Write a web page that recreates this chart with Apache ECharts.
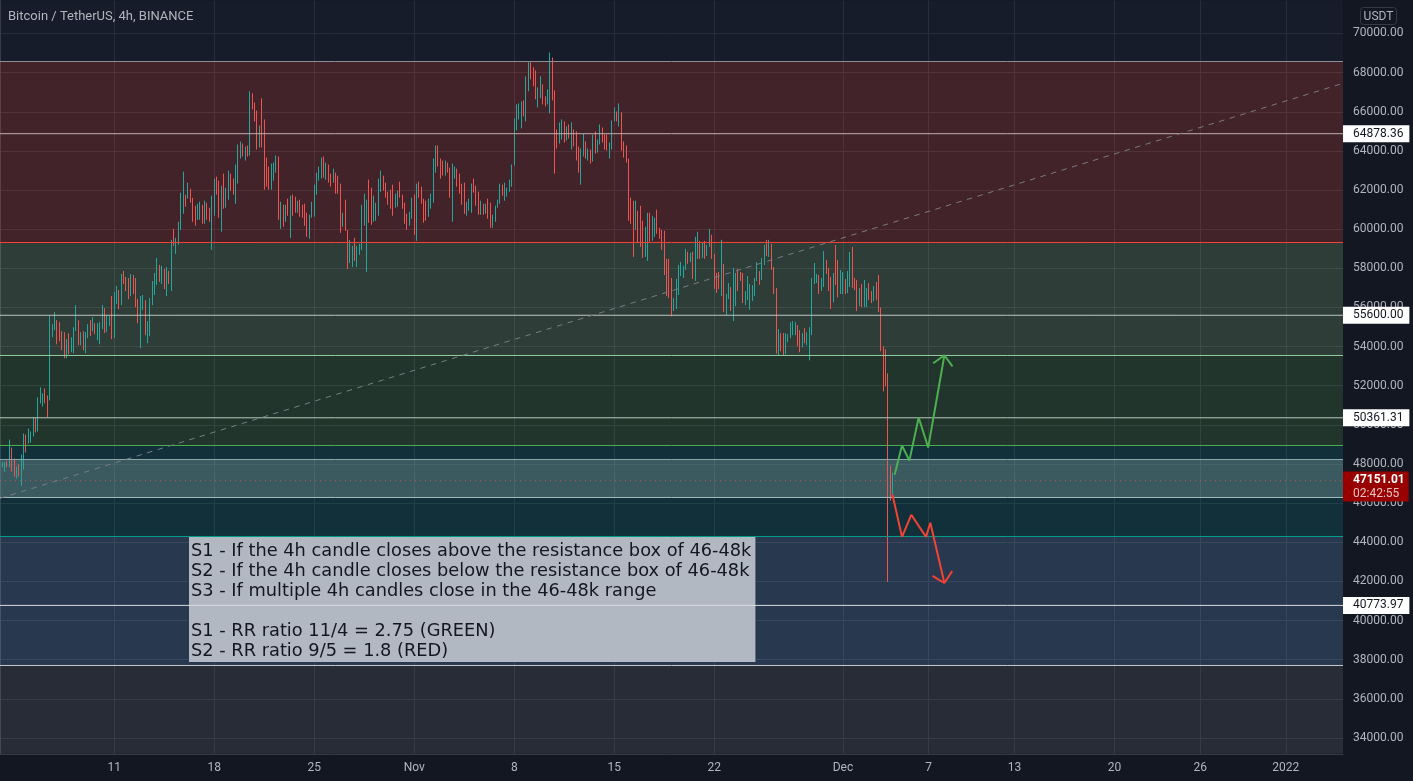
<!DOCTYPE html>
<html>
<head>
<meta charset="utf-8">
<title>Bitcoin / TetherUS, 4h, BINANCE</title>
<script src="https://cdn.jsdelivr.net/npm/echarts@6/dist/echarts.min.js"></script>
<style>
	html, body { margin: 0; padding: 0; background: #131722; overflow: hidden; }
	#chartmain { width: 1413px; height: 781px; }
</style>
</head>
<body>
<div id="chartmain"></div>
<script>
// 4h candles, first slot is 3 Oct 2021 00:00. At this zoom a candle is a 1px
// stick, body and wick can't be told apart, so only high, low and direction are read.
var highs = [
	48200,48122,48087,48173,49249,48839,48275,47865,47968,48480,
	49557,49506,49813,49660,50377,50377,51403,51915,51608,51864,
	51505,55590,55145,55761,55351,55248,54787,54735,54376,54684,
	54479,54992,56120,55351,54735,54787,54735,55145,55351,55504,
	55197,55197,55248,56120,55966,55607,55556,56581,56786,57094,
	56889,57709,57863,57555,57504,57709,57658,57504,56427,56581,
	56632,56376,55299,56478,57350,57763,58532,58173,58121,57968,
	58070,57865,59455,60019,59557,60377,61864,62941,61762,62377,
	62069,61608,61198,61300,61403,61249,61454,61352,61095,61711,
	62582,62685,62480,62223,62838,62121,62992,62838,62582,63300,
	64325,64479,64377,64223,64274,67043,66940,66479,66069,65299,
	66684,65607,63659,63197,63351,63402,63761,63710,61403,61249,
	61249,61557,61711,61762,61659,61454,61505,61249,61300,60839,
	60736,61403,62275,62890,63197,63659,63710,63402,63300,62838,
	63095,62890,62736,62326,60839,61505,59967,59455,59147,59557,
	59147,59250,61249,61813,61505,62531,62121,61711,61352,62582,
	62992,62736,62377,61916,62018,62275,61813,61967,62428,61762,
	61352,60788,60890,61608,61762,62326,62428,62172,61557,61454,
	61557,61813,63608,64274,64274,63608,63506,63506,63403,63147,
	63352,63198,63095,62839,62326,62378,61403,61557,62326,62583,
	62224,61916,61455,61301,61301,61557,61352,60737,61198,61506,
	62326,62275,62378,62121,62532,63300,65659,66377,66428,66531,
	66582,67812,68530,68530,68274,68120,67248,67812,67402,66787,
	67146,69026,68769,67094,65095,65454,65608,65505,65249,65351,
	65454,65095,64992,64223,64121,64890,64480,64121,64070,64839,
	64992,64582,65351,65197,64839,64839,64428,65556,66223,66018,
	66428,65967,64480,64275,63608,61609,61455,61455,60942,61198,
	60429,60122,60840,60840,60686,60583,60993,60070,59968,59917,
	58481,58481,57507,56482,57456,58174,58327,58122,58994,58840,
	58789,58840,59609,59866,59404,59301,59404,59199,60019,59712,
	58737,57763,57815,59455,58225,56687,57251,57046,58020,57763,
	57968,57815,57761,56838,57607,57197,57145,57504,58325,57863,
	58530,59196,59453,59453,59248,58068,56992,54890,54684,54684,
	54684,54633,55248,55300,55248,55095,54838,54684,54941,54736,
	54992,57504,58273,57709,57658,57504,58889,58427,58017,57556,
	57761,59196,58427,57915,57812,57453,57863,58837,59094,57504,
	57402,56992,57197,57402,56992,57248,56838,57094,57299,57658,
	56000,54018,53864,52634,47917,47558
];
var lows = [
	47900,47831,47609,47831,47831,47609,47352,47250,47352,46891,
	47711,48583,49044,49096,49403,49608,49660,51095,50941,51095,
	50377,51249,54479,54838,54120,54274,53812,53402,53402,53607,
	53710,53659,54787,54069,54069,53812,53659,54428,54530,54787,
	54633,54325,54120,54889,54684,54735,55043,54376,54428,56171,
	55914,56120,57196,56837,56427,56581,56684,56017,55197,53915,
	55863,54581,54171,54530,56120,56632,57148,57301,57199,56943,
	56584,57199,56840,59147,58737,59198,59967,60788,61147,61557,
	61352,60377,60173,60480,60480,60275,60275,60480,60377,58942,
	60685,61762,60583,59865,61044,61095,61505,61967,61762,61300,
	62326,63608,63710,63505,63710,63761,66120,65505,64069,64171,
	64171,62018,62172,62018,62018,62480,62890,60480,60019,60121,
	60377,60685,59557,60685,60839,60839,60634,60583,60173,59609,
	59506,60583,60634,61762,62480,62582,62633,62531,62377,62172,
	62377,61813,61813,59814,60121,59916,57968,58276,58070,58378,
	58070,58686,58942,60173,57814,60326,60224,60377,60429,60685,
	61916,61967,61608,61249,61044,60685,61095,61147,61608,61044,
	60275,59967,60173,60531,59711,59403,61608,61300,60326,60429,
	60634,61044,61352,62890,63197,62582,62737,62737,62890,61609,
	60378,62583,62173,61814,61250,60788,60686,60942,60840,61865,
	61198,60737,60737,60737,60788,60532,60070,60070,60378,61096,
	61301,61711,61455,61660,61916,62173,63249,65044,65608,65146,
	65761,65505,67043,67658,67300,66633,66223,66684,66377,66274,
	66377,65915,66582,62839,64121,64377,64582,64428,64531,64634,
	64070,64223,63506,62890,62275,63711,63608,63506,63352,63454,
	63864,63916,64326,64428,64070,64018,63608,64070,65505,65505,
	65249,64018,63659,63403,60429,60276,58584,59968,59301,59096,
	58532,58584,58379,59353,59404,59609,59763,59507,58943,57661,
	56584,56482,55542,55815,55917,56635,57610,57507,57917,58225,
	58327,57456,57353,58481,58481,58532,58481,58635,59096,58481,
	56943,56738,56943,56584,55764,55610,56430,55815,55302,56071,
	56840,57353,56223,56120,56376,55881,56325,56581,57351,57145,
	57402,58171,58632,58581,57915,56684,53642,53557,53762,53557,
	53608,54223,54428,54582,54582,54018,53710,53967,54172,54069,
	53300,54582,57197,57248,56684,56838,57043,57709,56838,55915,
	56274,57145,56513,56684,56684,56684,56735,57043,56992,56889,
	55812,56069,56018,56018,56018,56376,56223,56325,56376,55761,
	53762,51711,51967,41970,46122,46430
];
// u = up candle, d = down candle
var directions = "uuududdudu" + "uduuuduuud" + "duuuddddud" + "uuududuudu" + "duuuduuduu" +
	"dudddudddu" + "uduuuuudud" + "ududuuuudu" + "ddduududdu" + "udduduuddu" +
	"uudududddu" + "dddduuudud" + "ududdudddd" + "uuuuuududd" + "udddudduud" +
	"uuuuudduuu" + "uddddduudd" + "dduududddd" + "uuuudddudd" + "uudddduuud" +
	"ddududduuu" + "uduuuuuuuu" + "duuddduudd" + "uuddduudud" + "uddduududu" +
	"duuddduuud" + "uddddddudd" + "duuduudddd" + "ddduuuuuud" + "uduududuud" +
	"ddduduuduu" + "ddduuuuuud" + "uududddudd" + "uuuuuddudu" + "uuuuduuddd" +
	"udduuduudd" + "duduuddudd" + "dddddu";

var slotCount = 565;
var priceTicks = [34000,36000,38000,40000,42000,44000,46000,48000,50000,52000,54000,56000,58000,60000,62000,64000,66000,68000,70000];
var dateTickSlots = [48,90,132,174,216,258,300,354,390,426,468,504,540];
var dateTickLabels = ['11','18','25','Nov','8','15','22','Dec','7','13','20','26','2022'];

// drawn price levels and the shaded bands between them
var levelPrices = [68568,64878.36,59319,55600,53545,50361.31,48946,48230,46289,44296,40773.97,37704];
var levelColors = ['#8d8d98','#c0aeaf','#f44336','#bcc6bf','#8fcf9f','#b8c8bc','#4caf50','#8fa9ab','#a3bcbe','#00a08c','#d8dce2','#c8cace'];
var taggedLevels = [64878.36,55600,50361.31,40773.97];
var bandTops = [71698,68568,59319,53545,48946,48230,44296,37704];
var bandBottoms = [68568,59319,53545,48946,44296,46289,37704,33193];
var bandColors = ['rgba(66,90,130,0.08)','rgba(255,83,69,0.2)','rgba(159,213,144,0.2)','rgba(94,173,89,0.2)',
	'rgba(14,148,149,0.2)','rgba(155,188,187,0.3)','rgba(124,188,255,0.2)','rgba(124,128,139,0.2)'];

var lastPrice = 47151.01;
var countdown = '02:42:55';

var trendSlots = [0,564];
var trendPrices = [46245,67453];
var greenPathSlots = [375.7,378.8,381.9,385.8,389.8,396.6];
var greenPathPrices = [47455,48942,48173,50378,48840,53557];
var greenHeadSlots = [391.9,396.6,400];
var greenHeadPrices = [53146,53557,52992];
var redPathSlots = [374.8,378.8,382.7,388.9,390.7,396.6];
var redPathPrices = [46430,44277,45405,44277,44995,41918];
var redHeadSlots = [391.6,396.6,399.9];
var redHeadPrices = [42277,41918,42534];

var noteLines = [
	'S1 - If the 4h candle closes above the resistance box of 46-48k',
	'S2 - If the 4h candle closes below the resistance box of 46-48k',
	'S3 - If multiple 4h candles close in the 46-48k range',
	'',
	'S1 - RR ratio 11/4 = 2.75 (GREEN)',
	'S2 - RR ratio 9/5 = 1.8 (RED)'
];

var categories = [];
var start = Date.UTC(2021, 9, 3);
for (var s = 0; s < slotCount; s++) {
	categories.push(new Date(start + s * 4 * 3600 * 1000).toISOString().slice(0, 16));
}

var candles = [];
for (var i = 0; i < highs.length; i++) {
	if (directions.charAt(i) == 'u') {
		candles.push([lows[i], highs[i], lows[i], highs[i]]);
	} else {
		candles.push([highs[i], lows[i], lows[i], highs[i]]);
	}
}

function pairs(xs, ys) {
	var out = [];
	for (var k = 0; k < xs.length; k++) {
		out.push([xs[k], ys[k]]);
	}
	return out;
}

function isDateTick(index) {
	return dateTickSlots.indexOf(index) >= 0;
}

function overlayLine(name, xs, ys, color, width, dash, z, opacity) {
	return {
		name: name,
		type: 'line',
		xAxisIndex: 1,
		data: pairs(xs, ys),
		symbol: 'none',
		silent: true,
		z: z,
		lineStyle: { color: color, width: width, type: dash, opacity: opacity }
	};
}

var bandAreas = [];
for (var b = 0; b < bandTops.length; b++) {
	bandAreas.push([
		{ yAxis: bandTops[b], itemStyle: { color: bandColors[b] } },
		{ yAxis: bandBottoms[b] }
	]);
}

// tags on the price axis; the levels themselves are plain line series further down
var levelTags = [];
for (var t = 0; t < taggedLevels.length; t++) {
	levelTags.push({
		yAxis: taggedLevels[t],
		lineStyle: { color: 'rgba(0,0,0,0)' },
		label: {
			show: true,
			position: 'end',
			distance: 0,
			formatter: taggedLevels[t].toFixed(2),
			color: '#131722',
			backgroundColor: '#ffffff',
			fontFamily: 'Roboto',
			fontSize: 12,
			lineHeight: 14,
			padding: [2, 6, 1, 10]
		}
	});
}
levelTags.push({
	yAxis: lastPrice,
	lineStyle: { color: 'rgba(0,0,0,0)' },
	label: {
		show: true,
		position: 'end',
		distance: 0,
		offset: [0, 6],
		formatter: '{p|' + lastPrice.toFixed(2) + '}\n{t|' + countdown + '}',
		backgroundColor: '#990000',
		padding: [1, 4, 1, 10],
		rich: {
			p: { color: '#ffffff', fontFamily: 'Roboto', fontSize: 12, fontWeight: 'bold', lineHeight: 14 },
			t: { color: '#e3c4c4', fontFamily: 'Roboto', fontSize: 12, lineHeight: 14 }
		}
	}
});

var seriesList = [{
	name: 'BTCUSDT',
	type: 'candlestick',
	data: candles,
	barWidth: 0,
	z: 2,
	silent: true,
	itemStyle: {
		color: '#26a69a',
		color0: '#ef5350',
		borderColor: '#26a69a',
		borderColor0: '#ef5350',
		borderWidth: 1
	}
}, {
	name: 'zones',
	type: 'line',
	data: [],
	z: 3,
	silent: true,
	markArea: { silent: true, data: bandAreas }
}, {
	name: 'tags',
	type: 'line',
	data: [],
	z: 6,
	silent: true,
	markLine: { silent: true, symbol: 'none', animation: false, data: levelTags }
}];
for (var l = 0; l < levelPrices.length; l++) {
	seriesList.push(overlayLine('level', [0, slotCount - 1], [levelPrices[l], levelPrices[l]], levelColors[l], 1, 'solid', 4, 1));
}
seriesList.push(overlayLine('last price', [0, slotCount - 1], [lastPrice, lastPrice], '#ef5350', 1, [1, 4], 4, 0.7));
seriesList.push(overlayLine('trend', trendSlots, trendPrices, '#787b86', 1, [5.5, 5.5], 4, 1));
seriesList.push(overlayLine('up path', greenPathSlots, greenPathPrices, '#4caf50', 2, 'solid', 5, 1));
seriesList.push(overlayLine('up head', greenHeadSlots, greenHeadPrices, '#4caf50', 2, 'solid', 5, 1));
seriesList.push(overlayLine('down path', redPathSlots, redPathPrices, '#f44336', 2, 'solid', 5, 1));
seriesList.push(overlayLine('down head', redHeadSlots, redHeadPrices, '#f44336', 2, 'solid', 5, 1));

var option = {
	animation: false,
	backgroundColor: '#131722',
	title: {
		text: 'Bitcoin / TetherUS, 4h, BINANCE',
		left: 3,
		top: 5,
		textStyle: { color: '#b2b5be', fontFamily: 'Roboto', fontSize: 13, fontWeight: 'normal' }
	},
	grid: { left: -1, right: 70, top: 0.25, bottom: 27.25 },
	xAxis: [{
		type: 'category',
		data: categories,
		boundaryGap: false,
		axisLine: { lineStyle: { color: '#363a45' } },
		axisTick: { show: false, interval: function(index) { return isDateTick(index); } },
		axisLabel: {
			color: '#b2b5be',
			fontFamily: 'Roboto',
			fontSize: 12,
			margin: 8,
			interval: function(index) { return isDateTick(index); },
			formatter: function(value, index) { return dateTickLabels[dateTickSlots.indexOf(index)]; }
		},
		splitLine: {
			show: true,
			interval: function(index) { return isDateTick(index); },
			lineStyle: { color: '#262a36' }
		}
	}, {
		type: 'value',
		min: 0,
		max: slotCount - 1,
		show: false
	}],
	yAxis: {
		type: 'value',
		position: 'right',
		min: 33193,
		max: 71698,
		axisLine: { show: true, lineStyle: { color: '#363a45' } },
		axisTick: { show: false, customValues: priceTicks },
		axisLabel: {
			color: '#b2b5be',
			fontFamily: 'Roboto',
			fontSize: 12,
			margin: 10,
			customValues: priceTicks,
			formatter: function(value) { return value.toFixed(2); }
		},
		splitLine: { show: true, lineStyle: { color: '#262a36' } }
	},
	series: seriesList,
	graphic: [{
		type: 'text',
		left: 189,
		top: 537,
		z: 3.5,
		silent: true,
		style: {
			text: noteLines.join('\n'),
			fill: '#131722',
			font: '17.8px "DejaVu Sans"',
			lineHeight: 20,
			backgroundColor: '#b2b8c2',
			padding: [4, 4, 1, 2]
		}
	}, {
		type: 'group',
		left: 1360,
		top: 7,
		silent: true,
		children: [{
			type: 'rect',
			shape: { x: 0, y: 0, width: 36, height: 17, r: 3 },
			style: { fill: 'transparent', stroke: '#363a45', lineWidth: 1 }
		}, {
			type: 'text',
			style: { x: 18, y: 9, text: 'USDT', fill: '#b2b5be', font: '12px Roboto', align: 'center', verticalAlign: 'middle' }
		}]
	}]
};

var myChart = echarts.init(document.getElementById('chartmain'));
myChart.setOption(option);
</script>
</body>
</html>
